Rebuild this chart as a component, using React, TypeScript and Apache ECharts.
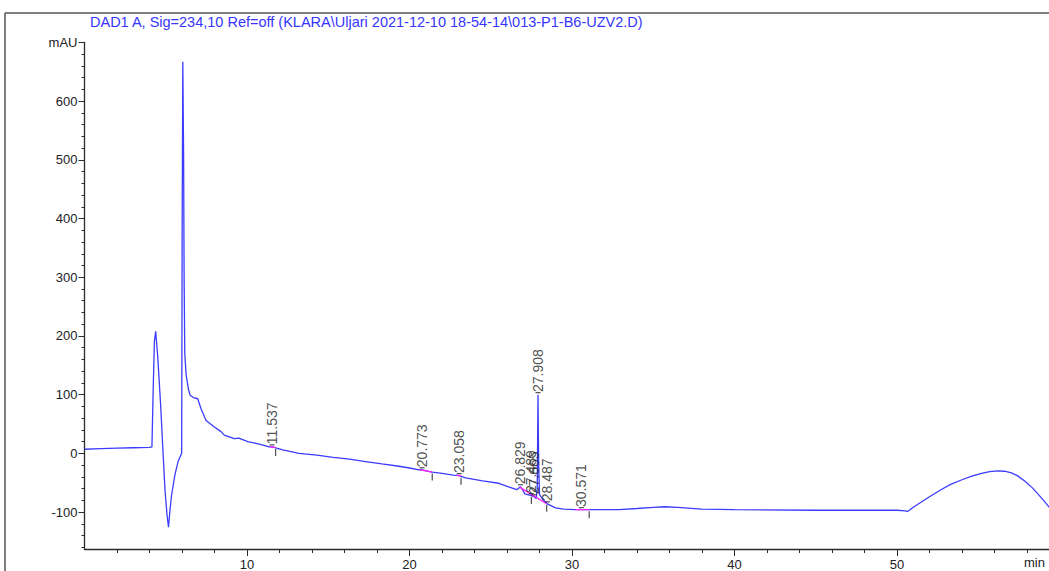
import React, { useEffect, useRef } from "react";
import * as echarts from "echarts";

const TITLE = "DAD1 A, Sig=234,10 Ref=off (KLARA\\Uljari 2021-12-10 18-54-14\\013-P1-B6-UZV2.D)";

const signal: [number, number][] = [
  [0, 7], [1, 8], [2, 9], [3, 9.5], [4.0, 10], [4.15, 11], [4.22, 100], [4.3, 190], [4.38, 208],
  [4.5, 167], [4.6, 122], [4.7, 75], [4.82, 8], [4.96, -65], [5.08, -105], [5.17, -126],
  [5.25, -100], [5.36, -71], [5.57, -36], [5.77, -13], [5.98, 0], [6.01, 380], [6.05, 667],
  [6.1, 500], [6.13, 300], [6.17, 170], [6.25, 135], [6.39, 110], [6.5, 99], [6.7, 95],
  [6.97, 93], [7.17, 76], [7.48, 56], [7.99, 45], [8.4, 37], [8.6, 31], [9.22, 25], [9.5, 26],
  [10.05, 20], [10.7, 16], [11.37, 11], [11.537, 11], [12.2, 6], [13.2, 0], [14.3, -3],
  [15.3, -7], [16.3, -10], [17.3, -14], [18.3, -18], [19.35, -22], [20.0, -25], [20.6, -28],
  [20.773, -28], [21.4, -32], [22.0, -34], [22.7, -37], [23.058, -38], [23.45, -42], [24.5, -47],
  [25.5, -51], [26.1, -57], [26.6, -62], [26.829, -57], [26.95, -62], [27.1, -69], [27.489, -72],
  [27.665, -74], [27.8, -77], [27.86, -60], [27.908, 100], [27.95, -20], [28.0, -70], [28.1, -74],
  [28.25, -80], [28.487, -86], [28.98, -93], [29.5, -95], [30.2, -96], [30.571, -96], [31.6, -96],
  [32.9, -96], [34, -94], [35, -92], [35.7, -91], [36.5, -92], [38, -95], [40, -96], [45, -97],
  [50, -97], [50.5, -98], [50.65, -99], [51.0, -92], [51.5, -83], [52.0, -74], [52.7, -62],
  [53.3, -53], [54.0, -45], [54.6, -39], [55.2, -34], [55.7, -31], [56.2, -30], [56.6, -30.5],
  [57.0, -33], [57.4, -38], [57.86, -47], [58.3, -58], [58.7, -70], [59.2, -86], [59.6, -100],
];

const peakTimes = [11.537, 20.773, 23.058, 26.829, 27.489, 27.665, 27.908, 28.487, 30.571];
const peakValues = [11, -28, -38, -57, -72, -74, 100, -86, -96];

const eventTimes = [11.76, 21.4, 23.17, 27.5, 28.44, 31.06];
const eventValues = [10, -32, -39, -72, -85, -96];

const baselines: [number, number][][] = [
  [[11.4, 11], [11.76, 10]],
  [[20.65, -28], [21.4, -32]],
  [[22.9, -37], [23.17, -39]],
  [[26.8, -58], [28.44, -86]],
  [[30.2, -96], [31.06, -96]],
];

const xMajor = [10, 20, 30, 40, 50];
const xMinor = [2, 4, 6, 8, 12, 14, 16, 18, 22, 24, 26, 28, 32, 34, 36, 38, 42, 44, 46, 48, 52, 54, 56, 58];
const yMajor = [-100, 0, 100, 200, 300, 400, 500, 600, 700];
const yMinor = [-160, -140, -120, -80, -60, -40, -20, 20, 40, 60, 80, 120, 140, 160, 180, 220, 240, 260, 280,
  320, 340, 360, 380, 420, 440, 460, 480, 520, 540, 560, 580, 620, 640, 660, 680];

const FONT = "'Liberation Sans', Arial, sans-serif";

export default function App() {
  const ref = useRef<HTMLDivElement>(null);
  useEffect(() => {
    if (!ref.current) return;
    const chart = echarts.init(ref.current, undefined, { renderer: "svg" });
    const axisLine = { show: true, onZero: false, lineStyle: { color: "#2a2a2a", width: 1.3 } };
    const hiddenLine = { show: false, onZero: false };
    const grid = { left: 84.5, top: 42.5, width: 975, height: 509.8 };
    chart.setOption({
      animation: false,
      backgroundColor: "#ffffff",
      grid,
      xAxis: [
        {
          type: "value", min: 0, max: 60, position: "bottom", axisLine,
          axisTick: { show: true, inside: false, length: 7, customValues: xMajor, lineStyle: { color: "#2a2a2a" } },
          axisLabel: { show: true, customValues: xMajor, margin: 9, fontSize: 13, color: "#222", fontFamily: FONT },
          splitLine: { show: false },
        },
        {
          type: "value", min: 0, max: 60, position: "bottom", axisLine: hiddenLine,
          axisTick: { show: true, inside: false, length: 4, customValues: xMinor, lineStyle: { color: "#2a2a2a" } },
          axisLabel: { show: false }, splitLine: { show: false },
        },
      ],
      yAxis: [
        {
          type: "value", min: -163, max: 700, position: "left", axisLine,
          axisTick: { show: true, inside: false, length: 6, customValues: yMajor, lineStyle: { color: "#2a2a2a" } },
          axisLabel: {
            show: true, customValues: yMajor, margin: 7, fontSize: 13, color: "#222", fontFamily: FONT,
            formatter: (v: number) => (v === 700 ? "mAU" : String(v)),
          },
          splitLine: { show: false },
        },
        {
          type: "value", min: -163, max: 700, position: "left", axisLine: hiddenLine,
          axisTick: { show: true, inside: false, length: 3, customValues: yMinor, lineStyle: { color: "#2a2a2a" } },
          axisLabel: { show: false }, splitLine: { show: false },
        },
      ],
      series: [
        {
          type: "line", data: signal, symbol: "none", z: 3,
          lineStyle: { color: "#3c3cff", width: 1.3 },
        },
        ...baselines.map((seg) => ({
          type: "line", data: seg, symbol: "none", z: 4,
          lineStyle: { color: "#ff20ff", width: 1.3 },
        })),
        {
          type: "scatter",
          data: peakTimes.map((t, i) => [t, peakValues[i]]),
          symbol: "rect", symbolSize: [5, 1.2], symbolOffset: [0, -2], z: 5,
          itemStyle: { color: "#222" },
          label: {
            show: true, position: "top", distance: 0, rotate: 90, align: "left", verticalAlign: "middle",
            formatter: (p: any) => peakTimes[p.dataIndex].toFixed(3),
            fontSize: 14, color: "#222", fontFamily: FONT,
          },
        },
        {
          type: "scatter",
          data: eventTimes.map((t, i) => [t, eventValues[i]]),
          symbol: "rect", symbolSize: [1.2, 7], symbolOffset: [0, 5], z: 5,
          itemStyle: { color: "#222" },
        },
      ],
      graphic: [
        { type: "line", shape: { x1: 5, y1: 13, x2: 1080, y2: 13 }, style: { stroke: "#555", lineWidth: 1.5 } },
        { type: "line", shape: { x1: 5, y1: 13, x2: 5, y2: 571 }, style: { stroke: "#555", lineWidth: 1.5 } },
        {
          type: "text", left: 90, top: 14,
          style: { text: TITLE, fill: "#3535ff", font: `14.5px ${FONT}` },
        },
        {
          type: "text", left: 1024, top: 556,
          style: { text: "min", fill: "#222", font: `13px ${FONT}` },
        },
      ],
    });
    return () => chart.dispose();
  }, []);
  return (
    <div style={{ position: "fixed", left: 0, top: 0, width: 1049, height: 571, overflow: "hidden", background: "#fff" }}>
      <div ref={ref} style={{ width: 1080, height: 571 }} />
    </div>
  );
}
